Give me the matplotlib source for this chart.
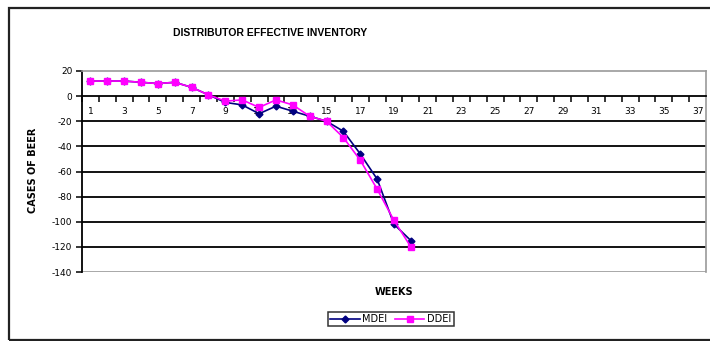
import matplotlib
matplotlib.use("Agg")
import matplotlib.pyplot as plt
from matplotlib.patches import Rectangle
from matplotlib.ticker import FixedLocator

plt.rcParams['font.family'] = ['DejaVu Sans']
plt.rcParams['axes.unicode_minus'] = False

weeks = list(range(1, 21))
mdei = [12, 12, 12, 11, 10, 11, 7, 1, -5, -7, -14, -8, -12, -16, -20, -28, -46, -66, -102, -115]
ddei = [12, 12, 12, 11, 10, 11, 7, 1, -4, -3, -9, -3, -7, -16, -20, -33, -51, -74, -99, -120]
x_tick_labels = [str(w) for w in range(1, 38, 2)]
y_ticks = list(range(-140, 21, 20))

fig = plt.figure(figsize=(7.1, 3.41), dpi=100)
fig.patch.set_facecolor('white')

# outer chart frame
fig.patches.append(Rectangle((9 / 710, 1 / 341), 1.2, 332 / 341, transform=fig.transFigure,
                             fill=False, edgecolor='#222222', linewidth=1.6))

ax = fig.add_axes([82 / 710, 1 - 272 / 341, (706 - 82) / 710, (272 - 71) / 341])
ax.set_xlim(0.5, 37.5)
ax.set_ylim(-140, 20)

# horizontal gridlines
for y in y_ticks:
    if -140 < y < 20 and y != 0:
        ax.axhline(y, color='black', linewidth=1.3, zorder=1)
ax.axhline(-140, color='#999999', linewidth=1.2, zorder=1)

ax.plot(weeks, mdei, color='#000080', marker='D', markersize=3.5, linewidth=1.2,
        label='MDEI', zorder=3)
ax.plot(weeks, ddei, color='#FF00FF', marker='s', markersize=4.5, linewidth=1.2,
        label='DDEI', zorder=4)

# spines
ax.spines['bottom'].set_position(('data', 0))
ax.spines['bottom'].set_color('black')
ax.spines['bottom'].set_linewidth(1.3)
ax.spines['left'].set_color('black')
ax.spines['left'].set_linewidth(1.3)
for s in ('top', 'right'):
    ax.spines[s].set_color('#999999')
    ax.spines[s].set_linewidth(1.2)

ax.xaxis.set_major_locator(FixedLocator(list(range(1, 38, 2))))
ax.set_xticklabels(x_tick_labels)
ax.xaxis.set_minor_locator(FixedLocator([k + 0.5 for k in range(0, 37)]))
ax.tick_params(axis='x', which='major', length=0, labelsize=6.5, pad=8)
ax.tick_params(axis='x', which='minor', length=4, width=1.1, direction='out', color='black')
ax.set_yticks(y_ticks)
ax.tick_params(axis='y', length=4, width=1.1, labelsize=6.5, pad=3)

fig.text(270 / 710, 1 - 33 / 341, 'DISTRIBUTOR EFFECTIVE INVENTORY', ha='center', va='center',
         fontsize=7.5, fontweight='bold', family=['Liberation Sans', 'DejaVu Sans'])
fig.text(33 / 710, 1 - 170 / 341, 'CASES OF BEER', ha='center', va='center', rotation=90,
         fontsize=7, fontweight='bold')
fig.text(394 / 710, 1 - 292 / 341, 'WEEKS', ha='center', va='center',
         fontsize=7, fontweight='bold')

leg = fig.legend(loc='center', bbox_to_anchor=(391 / 710, 1 - 319 / 341), ncol=2,
                 fontsize=7, frameon=True, fancybox=False, handlelength=3.0,
                 handletextpad=0.3, columnspacing=0.8, borderpad=0.25)
leg.get_frame().set_edgecolor('black')
leg.get_frame().set_linewidth(1.1)

fig.savefig('out.png', dpi=100)
